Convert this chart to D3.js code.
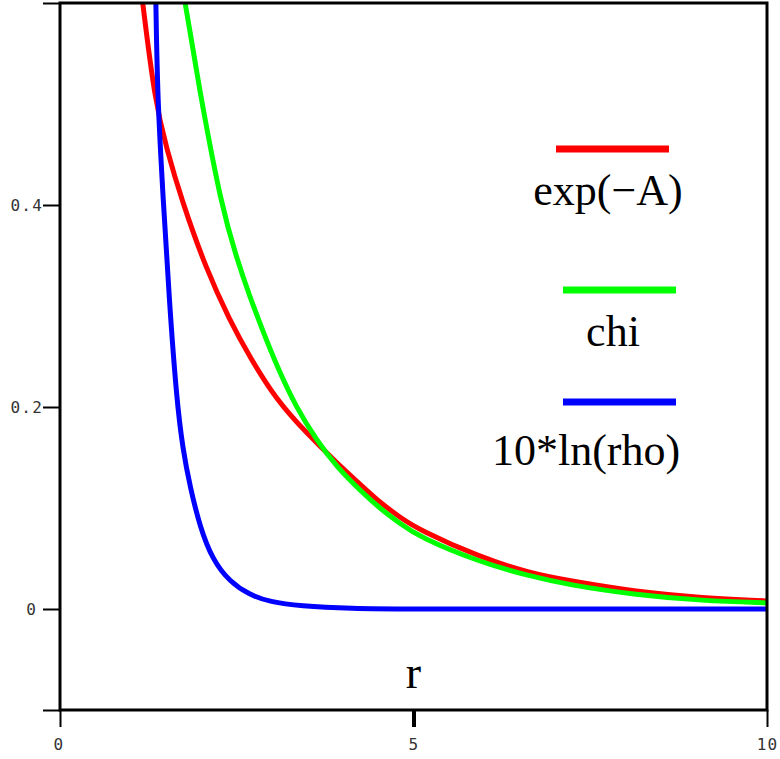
<!DOCTYPE html>
<html>
<head>
<meta charset="utf-8">
<script src="https://cdn.jsdelivr.net/npm/d3@7"></script>
<style>
  html, body { margin: 0; padding: 0; background: #fff; }
  svg { display: block; }
</style>
</head>
<body>
<svg id="chart" width="780" height="759"></svg>
<script>
// ---- data ----
const seriesNames = ["exp(\u2212A)", "chi", "10*ln(rho)"];
const seriesColors = ["#ff0000", "#00ff00", "#0000ff"];

const expA_r = [1.17, 1.34, 1.51, 1.72, 2.07, 2.40, 2.68, 3.06, 3.49, 3.91, 4.33, 4.52, 4.80, 5.09, 5.93, 6.64, 7.20, 8.15, 9.09, 10];
const expA_v = [0.60, 0.504, 0.455, 0.405, 0.336, 0.286, 0.250, 0.207, 0.174, 0.145, 0.118, 0.106, 0.091, 0.078, 0.0515, 0.0356, 0.028, 0.017, 0.011, 0.008];

const chi_r = [1.77, 1.93, 2.00, 2.28, 2.50, 2.68, 2.92, 3.11, 3.34, 3.63, 3.91, 4.28, 4.52, 4.80, 5.09, 5.93, 6.64, 7.20, 8.15, 9.09, 10];
const chi_v = [0.60, 0.534, 0.504, 0.400, 0.347, 0.310, 0.266, 0.234, 0.200, 0.167, 0.141, 0.115, 0.100, 0.085, 0.071, 0.0465, 0.0327, 0.0238, 0.0139, 0.0082, 0.006];

const rho_r = [1.356, 1.38, 1.46, 1.545, 1.65, 1.74, 1.84, 1.98, 2.16, 2.40, 2.68, 2.97, 3.39, 4.1, 5, 6, 7, 8, 9, 10];
const rho_v = [0.60, 0.504, 0.405, 0.306, 0.207, 0.157, 0.121, 0.081, 0.0485, 0.027, 0.014, 0.007, 0.003, 0.0005, 0, 0, 0, 0, 0, 0];

const xTicks = [0, 5, 10];
const yTicks = [-0.1, 0, 0.2, 0.4, 0.6];
const yTickLabels = {"0": "0", "0.2": "0.2", "0.4": "0.4"};
const xLabel = "r";

// ---- drawing ----
const svg = d3.select("#chart");
const x = d3.scaleLinear().domain([0, 10]).range([60, 767]);
const y = d3.scaleLinear().domain([-0.1, 0.6]).range([710, 3]);

svg.append("defs").append("clipPath").attr("id", "clip")
  .append("rect").attr("x", 60).attr("y", 3).attr("width", 707).attr("height", 707);

const series = [
  {r: expA_r, v: expA_v},
  {r: chi_r, v: chi_v},
  {r: rho_r, v: rho_v}
];

const line = d3.line()
  .x(d => x(d[0]))
  .y(d => y(d[1]))
  .curve(d3.curveBasis);

const plot = svg.append("g").attr("clip-path", "url(#clip)");
series.forEach((s, i) => {
  const pts = s.r.map((r, k) => [r, s.v[k]]);
  plot.append("path")
    .datum(pts)
    .attr("d", line)
    .attr("fill", "none")
    .attr("stroke", seriesColors[i])
    .attr("stroke-width", 5)
    .attr("stroke-linejoin", "round");
});

// Axes
const yAxis = d3.axisLeft(y)
  .tickValues(yTicks)
  .tickSize(17)
  .tickPadding(0)
  .tickFormat(d => yTickLabels[String(+d.toFixed(1))] || "");
const gy = svg.append("g").attr("transform", "translate(60,0)").call(yAxis);
gy.select(".domain").remove();
gy.selectAll(".tick line").attr("stroke", "#000").attr("stroke-width", 2);
gy.selectAll(".tick text")
  .attr("font-family", "'DejaVu Sans Mono', monospace")
  .attr("font-size", 16)
  .attr("letter-spacing", 1.2)
  .attr("fill", "#333")
  .attr("dx", d => Math.abs(d) < 1e-9 ? -6 : 0);

const xAxis = d3.axisBottom(x)
  .tickValues(xTicks)
  .tickSize(17)
  .tickPadding(12)
  .tickFormat(d3.format("d"));
const gx = svg.append("g").attr("transform", "translate(0,710)").call(xAxis);
gx.select(".domain").remove();
gx.selectAll(".tick line").attr("stroke", "#000").attr("stroke-width", d => d === 5 ? 4 : 2);
gx.selectAll(".tick text")
  .attr("font-family", "'DejaVu Sans Mono', monospace")
  .attr("font-size", 16)
  .attr("letter-spacing", 1.2)
  .attr("fill", "#333")
  .attr("dx", d => d === 0 ? -1.5 : 0);

// Frame
svg.append("rect")
  .attr("x", x(0)).attr("y", y(0.6))
  .attr("width", x(10) - x(0)).attr("height", y(-0.1) - y(0.6))
  .attr("fill", "none").attr("stroke", "#000").attr("stroke-width", 3);

// Axis label
svg.append("text")
  .attr("x", x(5)).attr("y", 688)
  .attr("text-anchor", "middle")
  .attr("font-family", "'Liberation Serif', 'Times New Roman', serif")
  .attr("font-size", 46)
  .text(xLabel);

// Legend
const legendLines = [[556, 669, 149], [563, 676, 290], [563, 676, 402]];
const legendText = [[608, 205], [613, 346], [586, 465]];
seriesNames.forEach((name, i) => {
  const L = legendLines[i], T = legendText[i];
  svg.append("line")
    .attr("x1", L[0]).attr("x2", L[1]).attr("y1", L[2]).attr("y2", L[2])
    .attr("stroke", seriesColors[i]).attr("stroke-width", 7);
  svg.append("text")
    .attr("x", T[0]).attr("y", T[1])
    .attr("text-anchor", "middle")
    .attr("font-family", "'Liberation Serif', 'Times New Roman', serif")
    .attr("font-size", 44)
    .text(name);
});
</script>
</body>
</html>
